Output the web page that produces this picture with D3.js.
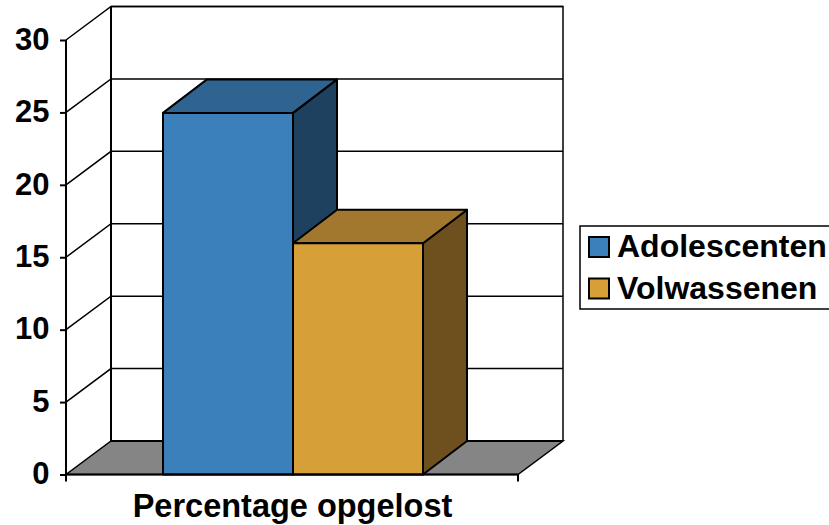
<!DOCTYPE html>
<html><head><meta charset="utf-8">
<script src="https://cdn.jsdelivr.net/npm/d3@7"></script>
<style>html,body{margin:0;padding:0;background:#fff}svg{display:block}text{font-family:"Liberation Sans",Arial,sans-serif;font-weight:bold;fill:#000}</style>
</head><body><svg id="c" width="829" height="525"></svg>
<script>
const categories = ["Percentage opgelost"];
const seriesNames = ["Adolescenten", "Volwassenen"];
const seriesValues = [25, 16];
const frontColors = ["#3c80bb", "#d69f38"];
const topColors = ["#2f6390", "#a1782d"];
const sideColors = ["#1f4160", "#6e501f"];
const yTicks = [0, 5, 10, 15, 20, 25, 30];

const svg = d3.select("#c");
const dx = 45, dy = -33.5, barDx = 44;
const y = d3.scaleLinear().domain([0, 30]).range([474.5, 40]);
const x0 = d3.scaleBand().domain(categories).range([66, 518]);
const bw = 130;
const xc = x0(categories[0]) + x0.bandwidth() / 2;
const x = d3.scaleBand().domain(seriesNames).range([xc - bw + 1, xc + bw + 1]);
const L = d3.line();
const left = 66, right = 518;

svg.append("path").attr("d", L([[left + dx, y(30) + dy], [right + dx, y(30) + dy], [right + dx, y(0) + dy]]))
  .attr("fill", "none").attr("stroke", "#000").attr("stroke-width", 1.5);
svg.append("path").attr("d", L([[left, y(0)], [right, y(0)], [right + dx, y(0) + dy], [left + dx, y(0) + dy]]) + "Z")
  .attr("fill", "#858585").attr("stroke", "#000").attr("stroke-width", 1.5);
yTicks.forEach(t => {
  if (t > 0) {
    svg.append("path").attr("d", L([[left, y(t)], [left + dx, y(t) + dy], [right + dx, y(t) + dy]]))
      .attr("fill", "none").attr("stroke", "#000").attr("stroke-width", 1.5);
  }
});
svg.append("line").attr("x1", left + dx).attr("x2", left + dx).attr("y1", y(30) + dy).attr("y2", y(0) + dy)
  .attr("stroke", "#000").attr("stroke-width", 2);
svg.append("line").attr("x1", left + dx).attr("x2", right + dx).attr("y1", y(0) + dy).attr("y2", y(0) + dy)
  .attr("stroke", "#000").attr("stroke-width", 2);

seriesNames.forEach((s, i) => {
  const a = x(s), b = a + x.bandwidth(), t = y(seriesValues[i]) + 0.5, z = y(0);
  const g = svg.append("g").attr("stroke", "#000").attr("stroke-width", 2).attr("stroke-linejoin", "round");
  g.append("path").attr("d", L([[b, t], [b + barDx, t + dy], [b + barDx, z + dy], [b, z]]) + "Z").attr("fill", sideColors[i]);
  g.append("path").attr("d", L([[a, t], [a + barDx, t + dy], [b + barDx, t + dy], [b, t]]) + "Z").attr("fill", topColors[i]);
  g.append("rect").attr("x", a).attr("y", t).attr("width", b - a).attr("height", z - t).attr("fill", frontColors[i]);
});

const yAxis = d3.axisLeft(y).tickValues(yTicks).tickSize(6).tickPadding(4);
const ga = svg.append("g").attr("transform", `translate(${left},0)`).call(yAxis);
ga.selectAll("path,line").attr("stroke", "#000").attr("stroke-width", 2);
ga.select(".domain").attr("d", `M0,${y(30)}V${y(0)}`);
ga.selectAll("text").attr("font-size", 31).attr("x", -16.5).attr("dy", "0.3em").style("font-family", '"Liberation Sans"').style("font-weight", "bold").attr("fill", "#000");

const xAxis = d3.axisBottom(x0).tickValues([]).tickSize(0);
const gb = svg.append("g").attr("transform", `translate(0,${y(0)})`).call(xAxis);
gb.selectAll(".domain").attr("stroke", "#000").attr("stroke-width", 2).attr("d", `M${left},0H${right}`);
[left, right].forEach(v => gb.append("line").attr("x1", v).attr("x2", v).attr("y1", 0).attr("y2", 7).attr("stroke", "#000").attr("stroke-width", 2));
svg.append("text").attr("x", 292.5).attr("y", 517).attr("text-anchor", "middle").attr("font-size", 32.5).text(categories[0]);

svg.append("rect").attr("x", 580).attr("y", 226).attr("width", 260).attr("height", 83).attr("fill", "#fff").attr("stroke", "#000").attr("stroke-width", 1.5);
seriesNames.forEach((s, i) => {
  const yy = 237 + i * 41.5;
  svg.append("rect").attr("x", 589).attr("y", yy).attr("width", 20).attr("height", 20).attr("fill", frontColors[i]).attr("stroke", "#000").attr("stroke-width", 2);
  svg.append("text").attr("x", 617).attr("y", yy + 20).attr("font-size", 32).text(s);
});
</script></body></html>
